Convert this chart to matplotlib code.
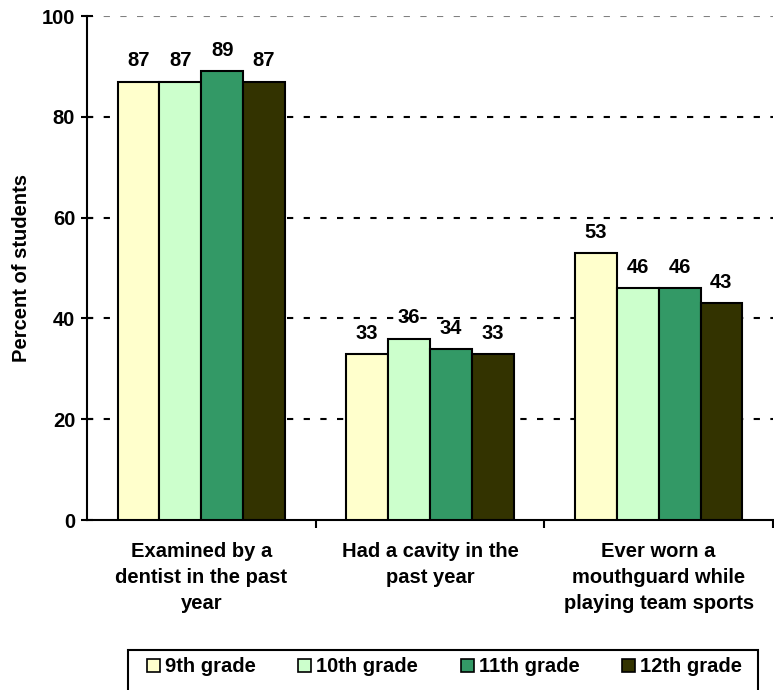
import matplotlib
matplotlib.use("Agg")
import matplotlib.pyplot as plt
import numpy as np
from matplotlib.patches import Patch, Rectangle

plt.rcParams['font.family'] = ['Liberation Sans', 'DejaVu Sans']
plt.rcParams['font.weight'] = 'bold'

categories = ["Examined by a\ndentist in the past\nyear",
              "Had a cavity in the\npast year",
              "Ever worn a\nmouthguard while\nplaying team sports"]
series = ["9th grade", "10th grade", "11th grade", "12th grade"]
values = {
    "9th grade": [87, 33, 53],
    "10th grade": [87, 36, 46],
    "11th grade": [89, 34, 46],
    "12th grade": [87, 33, 43],
}
colors = ["#FFFFCC", "#CCFFCC", "#339966", "#333300"]
yticks = [0, 20, 40, 60, 80, 100]

FS = 14.5

fig = plt.figure(figsize=(7.74, 6.9), dpi=100)
ax = fig.add_axes([87/774, 1-520/690, (773-87)/774, (520-16)/690])

x = np.arange(len(categories))
w = 0.183
for i, s in enumerate(series):
    pos = x + (i - 1.5) * w
    bars = ax.bar(pos, values[s], width=w, color=colors[i], edgecolor='black',
                  linewidth=1.5, zorder=3)
    for b, v in zip(bars, values[s]):
        ax.annotate(str(v), (b.get_x() + b.get_width()/2, v), xytext=(0, 8),
                    textcoords='offset points', ha='center', va='bottom',
                    fontsize=FS, fontweight='bold', zorder=4)

ax.set_xlim(-0.5, 2.5)
ax.set_ylim(0, 100)
for yv in yticks[1:-1]:
    ax.axhline(yv, color='black', linestyle=(0, (3, 5)), linewidth=1.5, zorder=1)
ax.axhline(100, color='#808080', linestyle=(0, (3, 5)), linewidth=1.5, zorder=1)

ax.set_yticks(yticks)
ax.set_yticklabels([str(t) for t in yticks], fontsize=FS, fontweight='bold')
ax.tick_params(axis='y', direction='inout', length=9, width=1.5, pad=4)

ax.set_xticks(x)
ax.set_xticklabels(categories, fontsize=FS, fontweight='bold', linespacing=1.45)
ax.tick_params(axis='x', which='major', length=0, pad=16)
ax.set_xticks([0.5, 1.5, 2.5], minor=True)
ax.tick_params(axis='x', which='minor', direction='out', length=6, width=1.5)

for sp in ['top', 'right']:
    ax.spines[sp].set_visible(False)
for sp in ['left', 'bottom']:
    ax.spines[sp].set_linewidth(1.5)

ax.set_ylabel("Percent of students", fontsize=FS, fontweight='bold', labelpad=8)

handles = [Patch(facecolor=c, edgecolor='black', linewidth=1.2, label=s)
           for c, s in zip(colors, series)]
leg = fig.legend(handles=handles, loc='center left', ncol=4,
                 bbox_to_anchor=(147/774, 1-667/690, (742-147)/774, 0),
                 mode='expand', frameon=False,
                 fontsize=FS, handlelength=0.65, handleheight=0.65, handletextpad=0.25,
                 columnspacing=1.0, borderpad=0, borderaxespad=0)
for t in leg.get_texts():
    t.set_fontweight('bold')

fig.patches.append(Rectangle((128/774, -0.05), (758-128)/774, (1-650/690) + 0.05,
                             transform=fig.transFigure, fill=False,
                             edgecolor='black', linewidth=1.5))

fig.savefig("out.png", dpi=100)
